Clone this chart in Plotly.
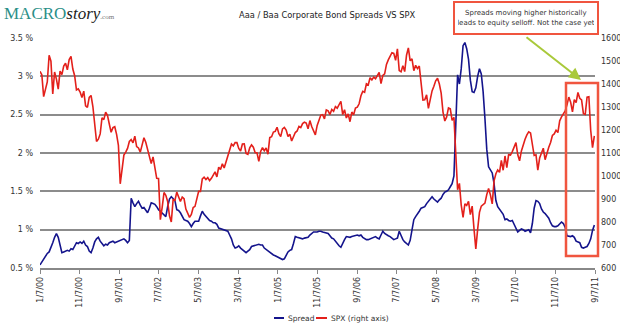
import pandas as pd
import plotly.graph_objects as go

START_DATE = "2000-01-07"

SPREAD = (
    [0.54, 0.58, 0.62, 0.66, 0.69, 0.71, 0.76, 0.83, 0.90, 0.95, 0.90, 0.80, 0.70, 0.71, 0.72, 0.73, 0.72, 0.75, 0.74, 0.79, 0.83, 0.82, 0.84, 0.82, 0.85, 0.80]
    + [0.78, 0.72, 0.70, 0.76, 0.84, 0.88, 0.90, 0.85, 0.82, 0.79, 0.81, 0.80, 0.83, 0.84, 0.85, 0.83, 0.84, 0.85, 0.86, 0.87, 0.88, 0.86, 0.83, 0.86, 1.41, 1.35]
    + [1.30, 1.34, 1.37, 1.32, 1.28, 1.29, 1.25, 1.22, 1.28, 1.35, 1.34, 1.33, 1.30, 1.26, 1.24, 1.22, 1.20, 1.17, 1.30, 1.40, 1.43, 1.40, 1.38, 1.26, 1.25, 1.22]
    + [1.18, 1.13, 1.12, 1.11, 1.08, 1.04, 1.08, 1.11, 1.11, 1.11, 1.18, 1.24, 1.20, 1.17, 1.14, 1.12, 1.11, 1.09, 1.09, 1.07, 1.02, 1.01, 1.00, 1.00, 0.99, 0.98]
    + [0.93, 0.88, 0.80, 0.76, 0.77, 0.79, 0.76, 0.74, 0.72, 0.70, 0.72, 0.74, 0.78, 0.79, 0.80, 0.80, 0.81, 0.80, 0.80, 0.76, 0.74, 0.72, 0.70, 0.69, 0.67, 0.66]
    + [0.65, 0.64, 0.63, 0.61, 0.62, 0.66, 0.71, 0.73, 0.74, 0.82, 0.91, 0.90, 0.89, 0.88, 0.88, 0.89, 0.90, 0.90, 0.93, 0.95, 0.97, 0.97, 0.97, 0.98, 0.98, 0.97]
    + [0.96, 0.95, 0.95, 0.92, 0.89, 0.88, 0.85, 0.81, 0.79, 0.77, 0.83, 0.87, 0.91, 0.90, 0.90, 0.91, 0.92, 0.93, 0.93, 0.92, 0.93, 0.90, 0.88, 0.87, 0.87, 0.88]
    + [0.89, 0.90, 0.91, 0.89, 0.88, 0.93, 0.98, 0.95, 0.93, 0.92, 0.91, 0.89, 0.87, 0.88, 0.89, 0.98, 0.91, 0.87, 0.84, 0.82, 0.80, 0.86, 1.00, 1.13, 1.17, 1.20]
    + [1.24, 1.28, 1.29, 1.30, 1.34, 1.37, 1.40, 1.43, 1.40, 1.38, 1.36, 1.39, 1.41, 1.46, 1.49, 1.50, 1.52, 1.56, 1.60, 1.70, 2.30, 3.02, 2.90, 3.10, 3.40, 3.44]
    + [3.36, 3.22, 2.95, 2.80, 2.79, 2.85, 3.00, 3.10, 3.03, 2.80, 2.45, 2.05, 1.82, 1.77, 1.74, 1.60, 1.38, 1.30, 1.27, 1.24, 1.20, 1.13, 1.14, 1.12, 1.11, 1.12]
    + [1.07, 1.01, 0.97, 0.99, 1.01, 1.00, 0.98, 0.99, 1.00, 0.96, 1.08, 1.28, 1.38, 1.37, 1.34, 1.27, 1.23, 1.21, 1.18, 1.15, 1.09, 1.05, 1.04, 1.04, 1.05, 1.07]
    + [1.10, 1.08, 1.03, 0.92, 0.91, 0.91, 0.92, 0.90, 0.85, 0.84, 0.83, 0.77, 0.76, 0.77, 0.78, 0.82, 0.88, 0.99, 1.06]
)

SPX = (
    [1455, 1440, 1345, 1380, 1409, 1525, 1499, 1357, 1452, 1421, 1378, 1456, 1441, 1478, 1490, 1462, 1506, 1520, 1465, 1436, 1374, 1379, 1365, 1341, 1369, 1305]
    + [1298, 1342, 1350, 1302, 1234, 1150, 1160, 1183, 1253, 1245, 1277, 1264, 1226, 1190, 1210, 1214, 1181, 1133, 966, 1040, 1091, 1104, 1120, 1150, 1158, 1144]
    + [1173, 1128, 1122, 1104, 1132, 1166, 1147, 1111, 1076, 1054, 1083, 1027, 990, 989, 810, 864, 928, 916, 889, 827, 800, 897, 894, 930, 912, 889]
    + [908, 901, 856, 834, 820, 833, 863, 868, 898, 933, 933, 987, 995, 985, 993, 980, 990, 1008, 1018, 996, 1038, 1028, 1053, 1035, 1061, 1089]
    + [1108, 1139, 1131, 1145, 1145, 1120, 1109, 1139, 1140, 1098, 1094, 1122, 1135, 1125, 1101, 1101, 1064, 1107, 1123, 1110, 1122, 1095, 1167, 1171, 1191, 1194]
    + [1212, 1184, 1171, 1205, 1211, 1200, 1172, 1182, 1152, 1172, 1189, 1196, 1216, 1211, 1228, 1234, 1230, 1205, 1241, 1215, 1195, 1179, 1220, 1248, 1265, 1267]
    + [1248, 1287, 1283, 1267, 1289, 1281, 1302, 1295, 1311, 1325, 1267, 1288, 1252, 1270, 1236, 1278, 1266, 1295, 1299, 1314, 1349, 1368, 1364, 1401, 1396, 1427]
    + [1418, 1430, 1423, 1438, 1451, 1402, 1437, 1444, 1485, 1505, 1522, 1536, 1533, 1503, 1553, 1458, 1453, 1479, 1454, 1525, 1557, 1501, 1509, 1458, 1481, 1467]
    + [1478, 1401, 1330, 1331, 1353, 1294, 1330, 1370, 1390, 1414, 1425, 1400, 1360, 1278, 1239, 1257, 1296, 1292, 1242, 1255, 1099, 940, 968, 873, 820, 879]
    + [872, 890, 832, 869, 770, 683, 768, 842, 869, 877, 882, 919, 946, 918, 879, 979, 1010, 1026, 1016, 1068, 1025, 1087, 1036, 1093, 1091, 1106]
    + [1126, 1145, 1092, 1066, 1109, 1138, 1160, 1179, 1192, 1187, 1136, 1089, 1092, 1025, 1078, 1102, 1121, 1071, 1104, 1125, 1146, 1176, 1183, 1199, 1189, 1240]
    + [1257, 1272, 1283, 1310, 1343, 1321, 1279, 1332, 1319, 1363, 1338, 1331, 1271, 1268, 1343, 1345, 1199, 1123, 1174]
)

N = min(len(SPREAD), len(SPX))
DATES = pd.date_range(START_DATE, periods=N, freq="14D")

X_TICK_DATES = ["2000-01-07", "2000-11-07", "2001-09-07", "2002-07-07", "2003-05-07",
                "2004-03-07", "2005-01-07", "2005-11-07", "2006-09-07", "2007-07-07",
                "2008-05-07", "2009-03-07", "2010-01-07", "2010-11-07", "2011-09-07"]
X_TICK_LABELS = ["1/7/00", "11/7/00", "9/7/01", "7/7/02", "5/7/03", "3/7/04", "1/7/05",
                 "11/7/05", "9/7/06", "7/7/07", "5/7/08", "3/7/09", "1/7/10", "11/7/10", "9/7/11"]
Y_TICKS = [0.5, 1.0, 1.5, 2.0, 2.5, 3.0, 3.5]
Y_TICK_LABELS = ["0.5 %", "1 %", "1.5 %", "2 %", "2.5 %", "3 %", "3.5 %"]
Y2_TICKS = [600, 700, 800, 900, 1000, 1100, 1200, 1300, 1400, 1500, 1600]

BLUE = "#14148c"
RED = "#e3201b"
BOX_RED = "#f0553f"
ARROW_GREEN = "#a9c93a"
FONT = "DejaVu Sans"

# plot area in pixels: x 40..595, y 38..268
L, R, T, B = 40, 595, 38, 268
def px(x):
    return (x - L) / (R - L)
def py(y):
    return (B - y) / (B - T)

fig = go.Figure()
fig.add_trace(go.Scatter(x=DATES[:N], y=SPREAD[:N], mode="lines", name="Spread",
                         line=dict(color=BLUE, width=1.6), yaxis="y", showlegend=False))
fig.add_trace(go.Scatter(x=DATES[:N], y=SPX[:N], mode="lines", name="SPX (right axis)",
                         line=dict(color=RED, width=1.6), yaxis="y2", showlegend=False))

fig.update_layout(
    width=620, height=326,
    margin=dict(l=L, r=620 - R, t=T, b=326 - B, pad=0, autoexpand=False),
    paper_bgcolor="white", plot_bgcolor="white",
    font=dict(family=FONT, size=8, color="#333"),
    xaxis=dict(type="date", range=["2000-01-07", "2011-09-07"], automargin=False,
               tickvals=X_TICK_DATES, ticktext=X_TICK_LABELS, tickangle=-90,
               showgrid=False, zeroline=False, showline=True, linecolor="#888", linewidth=1.5,
               ticks="outside", ticklen=4, tickcolor="#888", tickfont=dict(size=8, color="#333")),
    yaxis=dict(range=[0.5, 3.5], tickvals=Y_TICKS, ticktext=Y_TICK_LABELS, automargin=False,
               showgrid=True, gridcolor="#8c8c8c", gridwidth=1.5, zeroline=False,
               showline=False, ticks="", ticklabelstandoff=6, tickfont=dict(size=8, color="#333")),
    yaxis2=dict(range=[600, 1600], tickvals=Y2_TICKS, overlaying="y", side="right", automargin=False,
                showgrid=False, zeroline=False, showline=False, ticks="",
                ticklabelstandoff=5, tickfont=dict(size=8, color="#333")),
)

# red highlight rectangle
fig.add_shape(type="rect", xref="paper", yref="paper",
              x0=px(566), x1=px(598), y0=py(256), y1=py(83),
              line=dict(color=BOX_RED, width=2.5), fillcolor="rgba(0,0,0,0)")

# legend (manual)
fig.add_shape(type="line", xref="paper", yref="paper", x0=px(274), x1=px(284), y0=py(318), y1=py(318),
              line=dict(color=BLUE, width=2))
fig.add_shape(type="line", xref="paper", yref="paper", x0=px(316), x1=px(327), y0=py(318), y1=py(318),
              line=dict(color=RED, width=2))

annotations = [
    dict(text="Spread", x=px(286), y=py(318), xref="paper", yref="paper", xanchor="left", yanchor="middle",
         showarrow=False, font=dict(size=7.5, color="#333")),
    dict(text="SPX (right axis)", x=px(329), y=py(318), xref="paper", yref="paper", xanchor="left",
         yanchor="middle", showarrow=False, font=dict(size=7.5, color="#333")),
    dict(text="Aaa / Baa Corporate Bond Spreads VS SPX", x=px(327), y=py(15), xref="paper", yref="paper",
         xanchor="center", yanchor="middle", showarrow=False, font=dict(size=8.3, color="#222")),
    dict(text="Spreads moving higher historically<br>leads to equity selloff. Not the case yet",
         x=px(526), y=py(18), xref="paper", yref="paper", xanchor="center", yanchor="middle",
         showarrow=False, font=dict(size=7, color="#333"), bordercolor=BOX_RED, borderwidth=2,
         borderpad=3, bgcolor="white", width=136, height=24),
    dict(text="", x=px(581), y=py(80), xref="paper", yref="paper", showarrow=True,
         ax=-56, ay=-44, arrowcolor=ARROW_GREEN, arrowwidth=2, arrowhead=2, arrowsize=1.2),
    dict(text="<span style='color:#2b8f88'>MACRO</span><i>story</i>"
              "<span style='font-size:7px;color:#777'>.com</span>",
         x=px(2), y=py(14), xref="paper", yref="paper", xanchor="left", yanchor="middle",
         showarrow=False, font=dict(family="Liberation Serif", size=17, color="#222")),
]
fig.update_layout(annotations=annotations)

fig.write_html("out.html")
